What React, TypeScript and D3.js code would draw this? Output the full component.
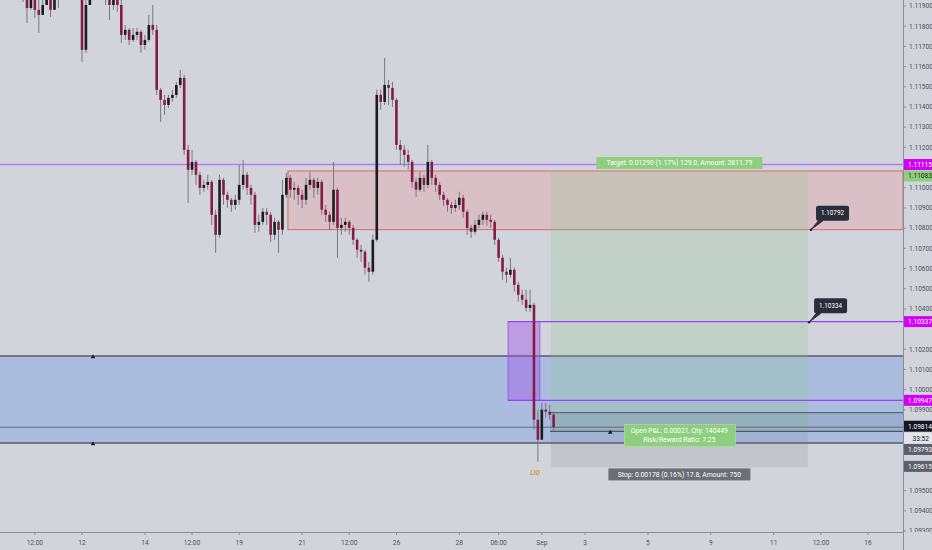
import React from 'react';
import * as d3 from 'd3';

// 3h bars, EURUSD
const firstOpen = 1.12029;
const closes = [
  1.12004, 1.12054, 1.12029, 1.12054, 1.1198, 1.11955, 1.1189, 1.1193, 1.11881, 1.11856,
  1.11905, 1.11955, 1.11881, 1.11955, 1.1198, 1.12029, 1.12054, 1.12029, 1.12004, 1.1198,
  1.11683, 1.11905, 1.1198, 1.12029, 1.12054, 1.12004, 1.11955, 1.11905, 1.1193, 1.11905,
  1.11757, 1.11782, 1.11732, 1.11757, 1.11772, 1.11707, 1.11732, 1.11806, 1.11782, 1.11485,
  1.11435, 1.1141, 1.11445, 1.1146, 1.11509, 1.11544, 1.11188, 1.11089, 1.11128, 1.11064,
  1.10999, 1.11014, 1.11029, 1.10866, 1.10767, 1.11039, 1.10965, 1.1094, 1.10915, 1.1094,
  1.11014, 1.11064, 1.10999, 1.10965, 1.10816, 1.10831, 1.10881, 1.10866, 1.10767, 1.10831,
  1.10792, 1.10965, 1.11049, 1.1099, 1.10999, 1.10965, 1.1094, 1.11014, 1.11039, 1.10999,
  1.11029, 1.10891, 1.10866, 1.10831, 1.1099, 1.10801, 1.10816, 1.10831, 1.10801, 1.10742,
  1.10693, 1.10683, 1.10604, 1.10584, 1.10742, 1.1146, 1.11425, 1.11509, 1.11494, 1.11435,
  1.11212, 1.11188, 1.11163, 1.11128, 1.11029, 1.1099, 1.11049, 1.11014, 1.11128, 1.11049,
  1.11014, 1.10965, 1.1094, 1.10915, 1.109, 1.10915, 1.1095, 1.10881, 1.10801, 1.10782,
  1.10816, 1.10841, 1.10866, 1.10841, 1.10831, 1.10742, 1.10653, 1.10584, 1.10569, 1.10594,
  1.10519, 1.1047, 1.10445, 1.10405, 1.1042, 1.09851, 1.09752, 1.09901, 1.09891, 1.09876,
  1.09814,
];
const highs = [
  1.12079, 1.12079, 1.12079, 1.12079, 1.12079, 1.12004, 1.1198, 1.12004, 1.11955, 1.1193,
  1.1193, 1.1198, 1.1198, 1.1198, 1.12004, 1.12054, 1.12079, 1.12079, 1.12054, 1.12029,
  1.12004, 1.1193, 1.12004, 1.12054, 1.12079, 1.12079, 1.12029, 1.1198, 1.11955, 1.11955,
  1.1193, 1.11806, 1.11791, 1.11791, 1.11791, 1.11782, 1.11757, 1.11856, 1.11905, 1.11806,
  1.11494, 1.1146, 1.1146, 1.11485, 1.11524, 1.11584, 1.11559, 1.11212, 1.11188, 1.11138,
  1.11079, 1.11039, 1.11064, 1.11039, 1.10891, 1.11064, 1.11049, 1.1098, 1.1095, 1.10965,
  1.11113, 1.11138, 1.11079, 1.11014, 1.1098, 1.10866, 1.109, 1.109, 1.10881, 1.10851,
  1.10841, 1.11039, 1.11074, 1.11064, 1.11029, 1.11014, 1.1099, 1.11049, 1.11079, 1.11049,
  1.11049, 1.11039, 1.10915, 1.10881, 1.11128, 1.10999, 1.10851, 1.10851, 1.10841, 1.10816,
  1.10752, 1.10717, 1.10693, 1.10633, 1.10767, 1.11485, 1.11485, 1.11643, 1.11534, 1.11524,
  1.11445, 1.11237, 1.11212, 1.11188, 1.11138, 1.11049, 1.11079, 1.11064, 1.11212, 1.11138,
  1.11064, 1.11029, 1.1098, 1.1095, 1.1093, 1.1094, 1.1098, 1.10965, 1.10891, 1.10816,
  1.10841, 1.10866, 1.10881, 1.10881, 1.10866, 1.10841, 1.10752, 1.10668, 1.10604, 1.10653,
  1.10604, 1.10534, 1.10495, 1.10495, 1.10495, 1.1043, 1.09901, 1.09935, 1.09935, 1.09925,
  1.09891,
];
const lows = [
  1.11955, 1.1197, 1.11955, 1.12004, 1.11945, 1.1192, 1.11816, 1.11881, 1.11841, 1.11767,
  1.11856, 1.11915, 1.11846, 1.11905, 1.1189, 1.11955, 1.1198, 1.1197, 1.11945, 1.1194,
  1.11623, 1.11668, 1.1192, 1.11955, 1.1198, 1.11955, 1.11905, 1.11831, 1.11881, 1.11871,
  1.11717, 1.11732, 1.11707, 1.11722, 1.11732, 1.11668, 1.11683, 1.11722, 1.11757, 1.1146,
  1.11326, 1.11361, 1.11395, 1.11425, 1.11445, 1.11494, 1.11163, 1.10925, 1.11064, 1.11014,
  1.10965, 1.1098, 1.1099, 1.10816, 1.10678, 1.10752, 1.10915, 1.109, 1.10881, 1.10891,
  1.10915, 1.1099, 1.10965, 1.10915, 1.10777, 1.10782, 1.10816, 1.10816, 1.10732, 1.10742,
  1.10678, 1.10767, 1.1095, 1.1095, 1.1094, 1.10915, 1.109, 1.10915, 1.1099, 1.1095,
  1.10965, 1.10866, 1.10831, 1.10792, 1.10816, 1.10653, 1.10767, 1.10782, 1.10767, 1.10717,
  1.10653, 1.10633, 1.10569, 1.10534, 1.10569, 1.10732, 1.11386, 1.1141, 1.1141, 1.114,
  1.11188, 1.11113, 1.11103, 1.11089, 1.10999, 1.10955, 1.1098, 1.1098, 1.10999, 1.11014,
  1.1098, 1.1094, 1.1091, 1.10881, 1.10871, 1.10881, 1.10891, 1.10851, 1.10767, 1.10752,
  1.10767, 1.10801, 1.10816, 1.10811, 1.10801, 1.10717, 1.10633, 1.10544, 1.10529, 1.10554,
  1.10485, 1.10435, 1.1042, 1.10386, 1.10386, 1.09802, 1.09643, 1.09752, 1.09861, 1.09851,
  1.09792,
];

// time axis (bar index of each label)
const timeLabels = ['12:00', '12', '14', '12:00', '19', '21', '12:00', '26', '28', '06:00', 'Sep', '3', '5', '9', '11', '12:00', '16'];
const timeBars = [8, 20, 36, 48, 60, 76, 88, 100, 116, 126, 137, 148, 164, 180, 196, 208, 220];

// drawings
const demandZone = [1.09736, 1.10167];
const supplyZone = [1.10792, 1.11083];
const supplyStart = 72.4;
const orderBlock = [1.09947, 1.10337];
const orderBlockBars = [128.4, 136.5];
const rangeBox = [1.09793, 1.09886];
const rangeStart = 139.1;
const levelTop = 1.11115;
const lastPrice = 1.09814;
const positionBars = [139.3, 204.7];
const entry = 1.09793;
const target = 1.11083;
const stop = 1.09615;
const callouts = [
  { bar: 205.5, price: 1.10792, text: '1.10792' },
  { bar: 205.0, price: 1.10334, text: '1.10334' },
];
const markers = [
  { bar: 22.8, price: 1.10167 },
  { bar: 22.8, price: 1.09736 },
  { bar: 154.4, price: 1.09793 },
];
const axisLabels = [
  { price: 1.11115, text: '1.11115', bg: '#d500f9', fg: '#ffffff', dy: 0 },
  { price: 1.11083, text: '1.11083', bg: '#8ecf7e', fg: '#1b1b1b', dy: 5 },
  { price: 1.10337, text: '1.10337', bg: '#d500f9', fg: '#ffffff', dy: 0 },
  { price: 1.09947, text: '1.09947', bg: '#d500f9', fg: '#ffffff', dy: 0 },
  { price: 1.09814, text: '1.09814', bg: '#131722', fg: '#ffffff', dy: -1 },
  { price: 1.09814, text: '33:52', bg: '#e4e5ea', fg: '#131722', dy: 11 },
  { price: 1.09793, text: '1.09793', bg: '#5d606b', fg: '#ffffff', dy: 18 },
  { price: 1.09615, text: '1.09615', bg: '#5d606b', fg: '#ffffff', dy: -1 },
];

const W = 932;
const H = 550;
const plotR = 903;
const plotB = 532;
const font = 'Roboto, "Liberation Sans", sans-serif';

export default function App() {
  const x = d3.scaleLinear().domain([0, 229]).range([3.4, 903.4]);
  const y = d3.scaleLinear().domain([1.093, 1.119]).range([531, 6]);
  const badgeYs = axisLabels.map((a) => y(a.price) + a.dy);
  const priceTicks = d3
    .range(1.093, 1.1195, 0.001)
    .filter((p) => badgeYs.every((by) => Math.abs(y(p) - by) > 8.5));
  const bw = 2.6;

  const bars = closes.map((c, i) => ({
    i,
    o: i === 0 ? firstOpen : closes[i - 1],
    c,
    h: highs[i],
    l: lows[i],
  }));

  const rect = (x0: number, x1: number, p0: number, p1: number) => ({
    x: x0,
    y: y(Math.max(p0, p1)),
    width: x1 - x0,
    height: Math.abs(y(p0) - y(p1)),
  });

  const posL = x(positionBars[0]);
  const posR = x(positionBars[1]);
  const posMid = (posL + posR) / 2;

  return (
    <div style={{ position: 'fixed', left: 0, top: 0 }}>
      <svg width={W} height={H} style={{ display: 'block', fontFamily: font }}>
        <defs>
          <clipPath id="plot">
            <rect x={0} y={0} width={plotR} height={plotB} />
          </clipPath>
        </defs>
        <rect width={W} height={H} fill="#d2d4db" />

        {/* price axis labels (bottom one sits behind the time axis) */}
        {priceTicks.map((p) => (
          <g key={p.toFixed(3)} transform={`translate(${plotR},${y(p)})`}>
            <line x1={0} x2={3} stroke="#8a8e98" />
            <text x={6} dy="0.35em" fontSize={6.6} fill="#4c525e">{p.toFixed(5)}</text>
          </g>
        ))}

        <g clipPath="url(#plot)">
          {/* demand zone */}
          <rect {...rect(0, plotR, demandZone[0], demandZone[1])} fill="rgba(100,150,230,0.36)" />
          <line x1={0} x2={plotR} y1={y(demandZone[1])} y2={y(demandZone[1])} stroke="#555d6e" strokeWidth={1.4} />
          <line x1={0} x2={plotR} y1={y(demandZone[0])} y2={y(demandZone[0])} stroke="#555d6e" strokeWidth={1.4} />

          {/* supply zone */}
          <rect {...rect(x(supplyStart), plotR, supplyZone[0], supplyZone[1])} fill="rgba(240,130,140,0.25)" stroke="#d9534f" strokeWidth={0.8} />

          {/* long position */}
          <rect {...rect(posL, posR, entry, target)} fill="rgba(130,200,120,0.2)" />
          <rect {...rect(posL, posR, stop, entry)} fill="rgba(120,120,135,0.16)" />

          {/* order block */}
          <rect {...rect(x(orderBlockBars[0]), x(orderBlockBars[1]), orderBlock[0], orderBlock[1])} fill="rgba(160,80,235,0.42)" stroke="#9b4de0" strokeWidth={0.8} />
          <line x1={x(orderBlockBars[0])} x2={plotR} y1={y(orderBlock[1])} y2={y(orderBlock[1])} stroke="#9d3dff" strokeWidth={1.2} />
          <line x1={x(orderBlockBars[0])} x2={plotR} y1={y(orderBlock[0])} y2={y(orderBlock[0])} stroke="#9d3dff" strokeWidth={1.2} />

          {/* range box near price */}
          <rect {...rect(x(rangeStart), plotR, rangeBox[0], rangeBox[1])} fill="rgba(80,90,110,0.14)" />
          <line x1={x(rangeStart)} x2={plotR} y1={y(rangeBox[1])} y2={y(rangeBox[1])} stroke="#4d5566" strokeWidth={1} />
          <line x1={x(rangeStart)} x2={plotR} y1={y(rangeBox[0])} y2={y(rangeBox[0])} stroke="#4d5566" strokeWidth={1.3} />
          <line x1={0} x2={plotR} y1={y(lastPrice)} y2={y(lastPrice)} stroke="#4d5566" strokeWidth={0.8} />

          {/* top level */}
          <line x1={0} x2={plotR} y1={y(levelTop)} y2={y(levelTop)} stroke="#b37cf5" strokeWidth={1.3} />

          {/* candles */}
          {bars.map((b) => (
            <line key={`w${b.i}`} x1={x(b.i)} x2={x(b.i)} y1={y(b.h)} y2={y(b.l)} stroke="#6e6e74" strokeWidth={0.9} />
          ))}
          {bars.map((b) => {
            const up = b.c >= b.o;
            const top = y(Math.max(b.o, b.c));
            const hgt = Math.max(1, Math.abs(y(b.o) - y(b.c)));
            return (
              <rect key={`b${b.i}`} x={x(b.i) - bw / 2} y={top} width={bw} height={hgt} fill={up ? '#1c1c1e' : '#851c45'} />
            );
          })}

          {/* markers */}
          {markers.map((m, k) => (
            <path key={k} d={d3.symbol().type(d3.symbolTriangle).size(9)() ?? ''} transform={`translate(${x(m.bar)},${y(m.price) + 1})`} fill="#1c1c1e" />
          ))}

          {/* LIQ */}
          <text x={x(135.3)} y={y(1.09643) + 13} fontSize={6.5} fontStyle="italic" fontWeight="bold" fill="#c9a227" textAnchor="middle">LIQ</text>

          {/* position texts */}
          <rect x={posMid - 83} y={y(target) - 14} width={166} height={12} fill="#8ecf7e" />
          <text x={posMid} y={y(target) - 8} dy="0.35em" textAnchor="middle" fontSize={6.8} fill="#ffffff">
            Target: 0.01290 (1.17%) 129.0, Amount: 2811.79
          </text>
          <rect x={posMid - 71} y={y(stop) + 1} width={142} height={12} fill="#6b6e76" />
          <text x={posMid} y={y(stop) + 7} dy="0.35em" textAnchor="middle" fontSize={6.8} fill="#ffffff">
            Stop: 0.00178 (0.16%) 17.8, Amount: 750
          </text>
          <rect x={posMid - 55} y={y(entry) - 7} width={111} height={22} fill="#8ecf7e" stroke="#a8dc9a" strokeWidth={0.8} />
          <text x={posMid} y={y(entry) - 1} dy="0.35em" textAnchor="middle" fontSize={6.8} fill="#ffffff">
            Open P&amp;L: 0.00021, Qty: 140449
          </text>
          <text x={posMid} y={y(entry) + 8} dy="0.35em" textAnchor="middle" fontSize={6.8} fill="#ffffff">
            Risk/Reward Ratio: 7.25
          </text>

          {/* price callouts */}
          {callouts.map((c) => {
            const ax = x(c.bar);
            const ay = y(c.price);
            return (
              <g key={c.text}>
                <path d={`M${ax},${ay} L${ax + 8},${ay - 10} L${ax + 12},${ay - 9} Z`} fill="#2a2e39" stroke="#2a2e39" strokeWidth={0.8} />
                <rect x={ax + 5} y={ay - 24} width={33} height={15} rx={2} fill="#2a2e39" />
                <text x={ax + 21.5} y={ay - 16.5} dy="0.35em" textAnchor="middle" fontSize={6.3} fill="#ffffff">{c.text}</text>
                <circle cx={ax} cy={ay} r={1.2} fill="#1c1c1e" />
              </g>
            );
          })}
        </g>

        {/* time axis */}
        <rect x={0} y={plotB} width={W} height={H - plotB} fill="#d2d4db" />
        <line x1={0} x2={plotR} y1={plotB + 0.5} y2={plotB + 0.5} stroke="#8a8e98" strokeWidth={1} />
        {timeLabels.map((t, k) => (
          <g key={k} transform={`translate(${x(timeBars[k])},${plotB})`}>
            <line y1={0} y2={3} stroke="#8a8e98" />
            <text y={11} dy="0.35em" textAnchor="middle" fontSize={6.6} fill="#4c525e">{t}</text>
          </g>
        ))}
        <line x1={plotR + 0.5} x2={plotR + 0.5} y1={0} y2={H} stroke="#8a8e98" strokeWidth={1} />

        {/* price axis badges */}
        {axisLabels.map((a, k) => (
          <g key={k} transform={`translate(${plotR + 1},${y(a.price) + a.dy})`}>
            <rect x={0} y={-5.5} width={W - plotR - 1} height={11} fill={a.bg} />
            {a.text.length === 5 ? (
              <text x={W - plotR - 4} dy="0.35em" textAnchor="end" fontSize={6.6} fill={a.fg}>{a.text}</text>
            ) : (
              <text x={4} dy="0.35em" fontSize={6.6} fill={a.fg}>{a.text}</text>
            )}
          </g>
        ))}
      </svg>
    </div>
  );
}
